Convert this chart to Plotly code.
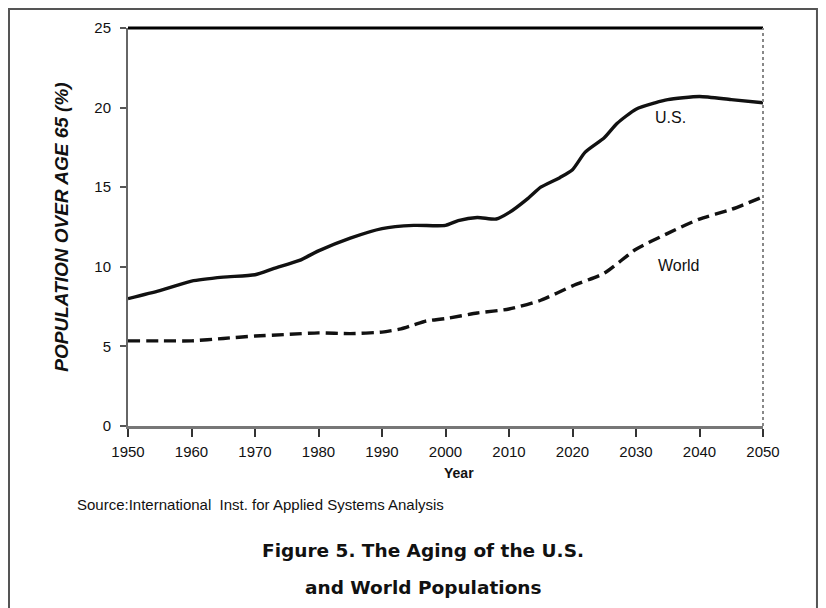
import plotly.graph_objects as go

# ---- data ----
us_years = [1950, 1955, 1960, 1965, 1970, 1973, 1977, 1980, 1985, 1990, 1995, 2000,
            2002, 2005, 2008, 2010, 2013, 2015, 2018, 2020, 2022, 2025, 2027, 2030,
            2033, 2035, 2040, 2045, 2050]
us_values = [8.0, 8.5, 9.1, 9.35, 9.5, 9.9, 10.4, 11.0, 11.8, 12.4, 12.6, 12.6,
             12.9, 13.1, 13.0, 13.4, 14.3, 15.0, 15.6, 16.1, 17.2, 18.1, 19.0, 19.9,
             20.3, 20.5, 20.7, 20.5, 20.3]

world_years = [1950, 1955, 1960, 1965, 1970, 1975, 1980, 1985, 1990, 1993, 1995, 1997,
               2000, 2005, 2010, 2015, 2020, 2025, 2030, 2035, 2040, 2045, 2050]
world_values = [5.35, 5.35, 5.35, 5.5, 5.65, 5.75, 5.85, 5.8, 5.9, 6.1, 6.35, 6.6,
                6.75, 7.1, 7.35, 7.9, 8.8, 9.6, 11.1, 12.1, 13.0, 13.6, 14.4]

x_ticks = [1950, 1960, 1970, 1980, 1990, 2000, 2010, 2020, 2030, 2040, 2050]
y_ticks = [0, 5, 10, 15, 20, 25]

series_labels = ["U.S.", "World"]
label_pos = [(2035.4, 19.4), (2036.8, 10.1)]

title_lines = ["Figure 5. The Aging of the U.S.", "and World Populations"]
source_text = "Source:International  Inst. for Applied Systems Analysis"

FONT = "Liberation Sans, Arial, sans-serif"

fig = go.Figure()
fig.add_trace(go.Scatter(x=us_years, y=us_values, mode="lines",
                         line=dict(color="#111111", width=3.4, shape="spline", smoothing=0.6),
                         showlegend=False, name="U.S."))
fig.add_trace(go.Scatter(x=world_years, y=world_values, mode="lines",
                         line=dict(color="#111111", width=3.4, dash="12px,6px",
                                   shape="spline", smoothing=0.6),
                         showlegend=False, name="World"))

for txt, (lx, ly) in zip(series_labels, label_pos):
    fig.add_annotation(x=lx, y=ly, text=txt, showarrow=False,
                       xanchor="center", yanchor="middle",
                       font=dict(family=FONT, size=16, color="#111111"))

fig.update_xaxes(range=[1950, 2050], tickvals=x_ticks, ticktext=[str(v) for v in x_ticks],
                 ticks="outside", ticklen=8, tickwidth=2, tickcolor="#333333",
                 showline=True, linecolor="#777777", linewidth=3,
                 showgrid=False, zeroline=False, ticklabelstandoff=2,
                 tickfont=dict(family=FONT, size=15, color="#111111"))
fig.update_yaxes(range=[0, 25], tickvals=y_ticks, ticks="outside", ticklen=6,
                 tickwidth=2, tickcolor="#555555",
                 showline=True, linecolor="#666666", linewidth=2,
                 showgrid=False, zeroline=False, ticklabelstandoff=6,
                 tickfont=dict(family=FONT, size=15, color="#111111"),
                 title=dict(text="POPULATION OVER AGE 65 (%)", standoff=21,
                            font=dict(family=FONT, size=19, color="#111111",
                                      style="italic", weight="bold")))

# top and right frame lines
fig.add_shape(type="line", xref="paper", yref="paper", x0=0, x1=1, y0=1, y1=1,
              line=dict(color="#000000", width=3))
fig.add_shape(type="line", xref="paper", yref="paper", x0=1, x1=1, y0=0, y1=1,
              line=dict(color="#888888", width=2, dash="dot"))
# outer border
fig.add_shape(type="rect", xref="paper", yref="paper", x0=-0.1874, x1=1.085,
              y0=-0.49, y1=1.0477, line=dict(color="#555555", width=2))

fig.add_annotation(xref="paper", yref="paper", x=0.521, y=-0.118, text="<b>Year</b>",
                   xanchor="center", yanchor="middle",
                   showarrow=False, font=dict(family=FONT, size=14, color="#111111"))
fig.add_annotation(xref="paper", yref="paper", x=-0.084, y=-0.196, xanchor="left",
                   yanchor="middle", text=source_text, showarrow=False,
                   font=dict(family="Liberation Sans Narrow, Arial Narrow, Liberation Sans", size=15,
                             color="#111111"))
fig.add_annotation(xref="paper", yref="paper", x=0.465, y=-0.3126, text="<b>" + title_lines[0] + "</b>",
                   xanchor="center", yanchor="middle",
                   showarrow=False, font=dict(family="DejaVu Sans", size=18.5, color="#111111"))
fig.add_annotation(xref="paper", yref="paper", x=0.465, y=-0.405, text="<b>" + title_lines[1] + "</b>",
                   xanchor="center", yanchor="middle",
                   showarrow=False, font=dict(family="DejaVu Sans", size=18.5, color="#111111"))

# the page body adds an 8px offset, so the figure is drawn 8px smaller with 8px less margin
fig.update_layout(width=818, height=600, autosize=False,
                  margin=dict(l=120, r=63, t=20, b=182),
                  paper_bgcolor="white", plot_bgcolor="white")

fig.write_html("out.html")
